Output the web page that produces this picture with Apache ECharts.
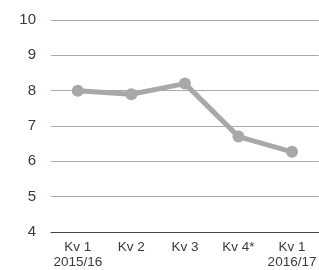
<!DOCTYPE html>
<html><head><meta charset="utf-8">
<script src="https://cdn.jsdelivr.net/npm/echarts@6/dist/echarts.min.js"></script>
<style>html,body{margin:0;padding:0;background:#fff}#c{width:319px;height:270px}</style>
</head><body><div id="c"></div>
<script>
const categories = ['Kv 1\n2015/16', 'Kv 2', 'Kv 3', 'Kv 4*', 'Kv 1\n2016/17'];
const values = [8.0, 7.9, 8.2, 6.7, 6.27];
const chart = echarts.init(document.getElementById('c'), null, {renderer: 'canvas'});
chart.setOption({
  animation: false,
  grid: {left: 51, top: 20, width: 272, height: 212},
  xAxis: {
    type: 'category', data: categories, boundaryGap: true,
    axisLine: {lineStyle: {color: '#444', width: 1}},
    axisTick: {show: false},
    axisLabel: {color: '#3a3a3a', fontSize: 13.5, fontFamily: 'Liberation Sans', lineHeight: 15, margin: 8, interval: 0}
  },
  yAxis: {
    type: 'value', min: 4, max: 10, interval: 1,
    axisLine: {show: false}, axisTick: {show: false},
    axisLabel: {color: '#3a3a3a', fontSize: 15, fontFamily: 'Liberation Sans', margin: 15},
    splitLine: {lineStyle: {color: '#b3a7a9', width: 1}}
  },
  series: [{
    type: 'line', data: values,
    lineStyle: {color: '#a8a8aa', width: 5},
    itemStyle: {color: '#a8a8aa'},
    symbol: 'circle', symbolSize: 12
  }]
});
</script></body></html>
